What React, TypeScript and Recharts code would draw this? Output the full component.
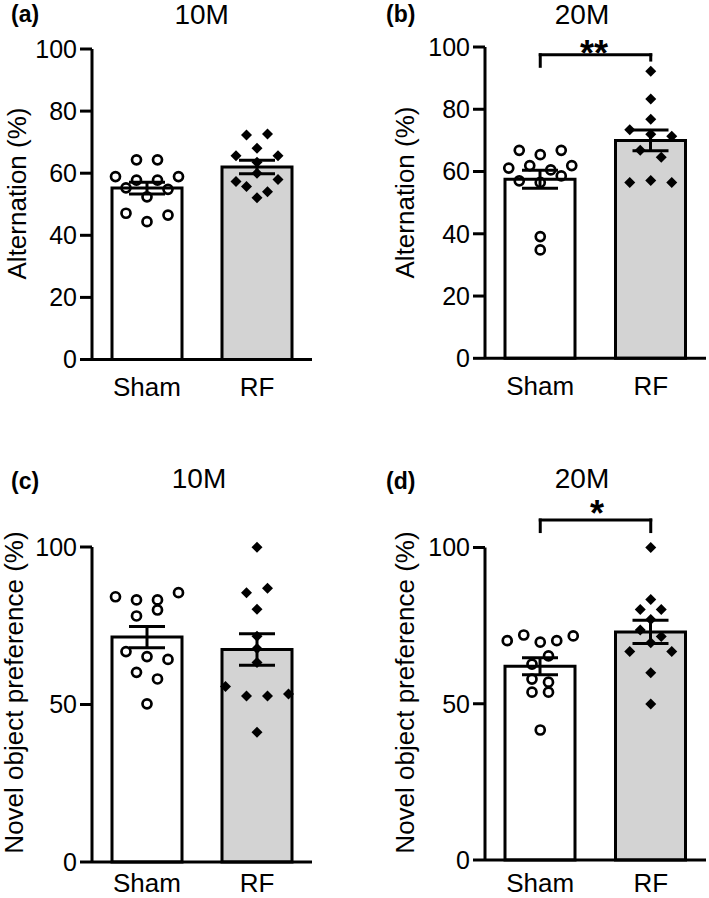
import React from "react";
import { ComposedChart, Bar, Cell, ErrorBar, Scatter, XAxis, YAxis, ReferenceLine } from "recharts";

const groups = ["Sham", "RF"];
const barFills = ["#ffffff", "#d3d3d3"];

// Y-maze spontaneous alternation (%), individual animals
const alt10Sham = [64.3, 64.3, 58.9, 57.8, 57.8, 58.9, 55.3, 52.4, 54.8, 47.1, 44.4, 46.5];
const alt10RF = [72.3, 72.6, 65.6, 68.0, 65.6, 63.5, 57.3, 60.0, 58.0, 55.7, 54.0, 52.1];
const alt20Sham = [66.8, 65.4, 66.8, 61.1, 61.9, 60.5, 61.9, 57.0, 56.5, 58.6, 39.1, 34.8];
const alt20RF = [92.2, 83.3, 76.8, 73.4, 72.0, 71.3, 66.8, 64.6, 56.5, 57.1, 56.5];

// novel object preference (%), individual animals
const nor10Sham = [84.2, 83.2, 83.2, 85.5, 78.1, 80.0, 66.8, 65.2, 64.3, 60.2, 58.1, 50.2];
const nor10RF = [99.9, 85.5, 86.9, 80.2, 71.7, 67.8, 63.3, 55.7, 52.7, 52.7, 53.3, 41.2];
const nor20Sham = [70.2, 72.0, 69.7, 70.2, 71.7, 62.7, 65.3, 57.9, 56.9, 53.7, 53.7, 41.6];
const nor20RF = [100, 83.4, 80.2, 80.2, 77.0, 73.6, 71.5, 66.7, 69.5, 66.7, 59.9, 49.9];

// bar heights (mean) and error bars (SEM): [Sham, RF]
const alt10Mean = [55.2, 62.0];
const alt10Sem = [1.9, 2.2];
const alt20Mean = [57.5, 70.0];
const alt20Sem = [2.9, 3.3];
const nor10Mean = [71.4, 67.5];
const nor10Sem = [3.4, 5.0];
const nor20Mean = [62.0, 73.0];
const nor20Sem = [2.7, 3.7];

const altTicks = [0, 20, 40, 60, 80, 100];
const norTicks = [0, 50, 100];

const FONT = "'Liberation Sans', Arial, Helvetica, sans-serif";

// spread points of one group sideways, Prism-like rows
const ROW_BAND = 3.05;
const POINT_GAP = 21;
const HALF_SPREAD = 33;

function swarm(values: number[], name: string) {
  const order = values.map((_, i) => i).sort((a, b) => values[b] - values[a] || a - b);
  const rows: number[][] = [];
  let cur: number[] = [];
  let top = 0;
  order.forEach((i) => {
    if (cur.length && top - values[i] <= ROW_BAND) cur.push(i);
    else {
      if (cur.length) rows.push(cur);
      cur = [i];
      top = values[i];
    }
  });
  if (cur.length) rows.push(cur);
  const widest = Math.max(...rows.map((r) => r.length));
  const step = widest > 1 ? Math.min(POINT_GAP, (2 * HALF_SPREAD) / (widest - 1)) : 0;
  const dx = values.map(() => 0);
  rows.forEach((r) => {
    r.sort((a, b) => a - b);
    r.forEach((i, k) => {
      dx[i] = (k - (r.length - 1) / 2) * step;
    });
  });
  return values.map((v, i) => ({ name, value: v, dx: dx[i] }));
}

const circleShape = (p: any) => (
  <circle cx={p.cx + p.payload.dx} cy={p.cy} r={4.5} fill="none" stroke="#000" strokeWidth={2.7} />
);

const diamondShape = (p: any) => {
  const x = p.cx + p.payload.dx;
  const y = p.cy;
  const s = 5.5;
  return <polygon points={`${x},${y - s} ${x + s},${y} ${x},${y + s} ${x - s},${y}`} fill="#000" />;
};

interface Bracket {
  y: number;
  leftEnd: number;
  rightEnd: number;
}

interface PanelProps {
  left: number;
  top: number;
  width: number;
  height: number;
  margin: { top: number; right: number; bottom: number; left: number };
  labelGap: number;
  ticks: number[];
  means: number[];
  sems: number[];
  sham: number[];
  rf: number[];
  bracket?: Bracket;
}

function Panel({ left, top, width, height, margin, labelGap, ticks, means, sems, sham, rf, bracket }: PanelProps) {
  const barData = groups.map((g, i) => ({ name: g, mean: means[i], sem: sems[i] }));
  const line = { stroke: "#000", strokeWidth: 3, strokeLinecap: "square" as const, ifOverflow: "visible" as const };
  return (
    <div style={{ position: "absolute", left, top }}>
      <ComposedChart width={width} height={height} margin={margin} data={barData}>
        <XAxis
          dataKey="name"
          type="category"
          allowDuplicatedCategory={false}
          axisLine={{ stroke: "#000", strokeWidth: 3 }}
          tickLine={false}
          tickSize={6}
          tickMargin={labelGap}
          height={30}
          tick={{ fill: "#000", fontSize: 26, fontFamily: FONT }}
        />
        <YAxis
          type="number"
          domain={[0, 100]}
          ticks={ticks}
          interval={0}
          width={92}
          axisLine={{ stroke: "#000", strokeWidth: 3 }}
          tickLine={{ stroke: "#000", strokeWidth: 3 }}
          tickSize={12}
          tickMargin={3}
          tick={{ fill: "#000", fontSize: 25, fontFamily: FONT }}
        />
        <Bar dataKey="mean" barSize={70} stroke="#000" strokeWidth={3} isAnimationActive={false}>
          {barData.map((d, i) => (
            <Cell key={d.name} fill={barFills[i]} />
          ))}
          <ErrorBar dataKey="sem" direction="y" width={18} stroke="#000" strokeWidth={3} />
        </Bar>
        <Scatter data={swarm(sham, "Sham")} dataKey="value" shape={circleShape} isAnimationActive={false} />
        <Scatter data={swarm(rf, "RF")} dataKey="value" shape={diamondShape} isAnimationActive={false} />
        {bracket && (
          <ReferenceLine
            segment={[
              { x: "Sham", y: bracket.y },
              { x: "RF", y: bracket.y },
            ]}
            {...line}
          />
        )}
        {bracket && (
          <ReferenceLine
            segment={[
              { x: "Sham", y: bracket.y },
              { x: "Sham", y: bracket.leftEnd },
            ]}
            {...line}
          />
        )}
        {bracket && (
          <ReferenceLine
            segment={[
              { x: "RF", y: bracket.y },
              { x: "RF", y: bracket.rightEnd },
            ]}
            {...line}
          />
        )}
      </ComposedChart>
    </div>
  );
}

export default function App() {
  const txt = { fontFamily: FONT, fill: "#000" };
  return (
    <div style={{ position: "absolute", left: 0, top: 0, width: 709, height: 898, background: "#fff", overflow: "hidden" }}>
      <Panel
        left={0}
        top={0}
        width={354}
        height={412}
        margin={{ top: 49, right: 42, bottom: 22.5, left: 0 }}
        labelGap={12}
        ticks={altTicks}
        means={alt10Mean}
        sems={alt10Sem}
        sham={alt10Sham}
        rf={alt10RF}
      />
      <Panel
        left={354}
        top={0}
        width={355}
        height={412}
        margin={{ top: 47, right: 3, bottom: 23.7, left: 39 }}
        labelGap={12}
        ticks={altTicks}
        means={alt20Mean}
        sems={alt20Sem}
        sham={alt20Sham}
        rf={alt20RF}
        bracket={{ y: 97.5, leftEnd: 93.8, rightEnd: 95.8 }}
      />
      <Panel
        left={0}
        top={460}
        width={354}
        height={438}
        margin={{ top: 87, right: 42, bottom: 6, left: 0 }}
        labelGap={6}
        ticks={norTicks}
        means={nor10Mean}
        sems={nor10Sem}
        sham={nor10Sham}
        rf={nor10RF}
      />
      <Panel
        left={354}
        top={460}
        width={355}
        height={438}
        margin={{ top: 87.5, right: 3, bottom: 8, left: 39 }}
        labelGap={8}
        ticks={norTicks}
        means={nor20Mean}
        sems={nor20Sem}
        sham={nor20Sham}
        rf={nor20RF}
        bracket={{ y: 108.8, leftEnd: 105.1, rightEnd: 105.1 }}
      />
      <svg width={709} height={898} style={{ position: "absolute", left: 0, top: 0, pointerEvents: "none" }}>
        <text x={11} y={21.5} fontSize={23} fontWeight="bold" {...txt}>(a)</text>
        <text x={386} y={21.5} fontSize={23} fontWeight="bold" {...txt}>(b)</text>
        <text x={11} y={489} fontSize={23} fontWeight="bold" {...txt}>(c)</text>
        <text x={386} y={489} fontSize={23} fontWeight="bold" {...txt}>(d)</text>

        <text x={201.7} y={24} fontSize={28} textAnchor="middle" {...txt}>10M</text>
        <text x={582} y={24} fontSize={28} textAnchor="middle" {...txt}>20M</text>
        <text x={199} y={488} fontSize={28} textAnchor="middle" {...txt}>10M</text>
        <text x={582} y={488} fontSize={28} textAnchor="middle" {...txt}>20M</text>

        <text x={594} y={65.8} fontSize={36} fontWeight="bold" textAnchor="middle" {...txt}>**</text>
        <text x={597} y={525.8} fontSize={36} fontWeight="bold" textAnchor="middle" {...txt}>*</text>

        <text x={17} y={193.5} fontSize={26} textAnchor="middle" dominantBaseline="central" transform="rotate(-90 17 193.5)" {...txt}>
          Alternation (%)
        </text>
        <text x={405} y={192.5} fontSize={26} textAnchor="middle" dominantBaseline="central" transform="rotate(-90 405 192.5)" {...txt}>
          Alternation (%)
        </text>
        <text x={14} y={692.5} fontSize={26} textAnchor="middle" dominantBaseline="central" transform="rotate(-90 14 692.5)" {...txt}>
          Novel object preference (%)
        </text>
        <text x={405} y={692.5} fontSize={26} textAnchor="middle" dominantBaseline="central" transform="rotate(-90 405 692.5)" {...txt}>
          Novel object preference (%)
        </text>
      </svg>
    </div>
  );
}
